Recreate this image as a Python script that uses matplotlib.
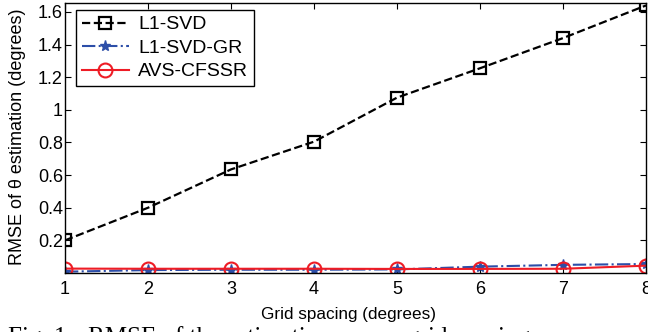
import matplotlib.pyplot as plt

plt.rcParams['font.family'] = ['Liberation Sans', 'DejaVu Sans']

grid = [1, 2, 3, 4, 5, 6, 7, 8]
l1svd = [0.2, 0.4, 0.635, 0.805, 1.075, 1.255, 1.44, 1.64]
l1svd_gr = [0.008, 0.018, 0.02, 0.02, 0.022, 0.039, 0.05, 0.055]
avs = [0.027, 0.026, 0.026, 0.026, 0.025, 0.025, 0.026, 0.045]

fig = plt.figure(figsize=(6.48, 3.32), dpi=100)
ax = fig.add_axes([0.1003, 0.1777, 0.8967, 0.8133])

ax.plot(grid, l1svd, 'k--s', mfc='none', ms=8.5, mew=1.6, lw=1.6, label='L1-SVD')
ax.plot(grid, l1svd_gr, '-.*', color='#2c4ea8', ms=8, lw=1.5, label='L1-SVD-GR')
ax.plot(grid, avs, '-o', color='#ee1c25', mfc='none', ms=10, mew=1.5, lw=1.5, label='AVS-CFSSR')

ax.set_xlim(1, 8)
ax.set_ylim(0, 1.655)
ax.set_xticks(grid)
ax.set_yticks([0.2, 0.4, 0.6, 0.8, 1, 1.2, 1.4, 1.6])
ax.set_yticklabels(['0.2', '0.4', '0.6', '0.8', '1', '1.2', '1.4', '1.6'])
ax.tick_params(direction='in', top=True, right=True, labelsize=13, length=4)
ax.tick_params(axis='x', pad=6)
ax.tick_params(axis='y', pad=1.5)
for s in ax.spines.values():
    s.set_linewidth(1.0)

ax.set_xlabel('Grid spacing (degrees)', fontsize=12.3)
ax.xaxis.set_label_coords(0.488, -0.125)
ax.set_ylabel('RMSE of \u03b8 estimation (degrees)', fontsize=13, va='center')
ax.yaxis.set_label_coords(-0.081, 0.505)

leg = ax.legend(loc='upper left', bbox_to_anchor=(0.019, 0.974), borderaxespad=0,
                fontsize=14, fancybox=False, edgecolor='k', framealpha=1,
                handlelength=2.4, handletextpad=0.5, borderpad=0.3,
                labelspacing=0.3)
leg.get_frame().set_linewidth(1.0)

# caption line, cut off at the bottom edge like the source image
serif = ['Liberation Serif', 'DejaVu Serif']
fig.text(8 / 648, -0.035, 'Fig. 1.', family=serif, fontsize=18, va='baseline')
fig.text(88 / 648, -0.035, 'RMSE of the estimation versus grid spacing',
         family=serif, fontsize=18, va='baseline')

fig.savefig('out.png', dpi=100)
